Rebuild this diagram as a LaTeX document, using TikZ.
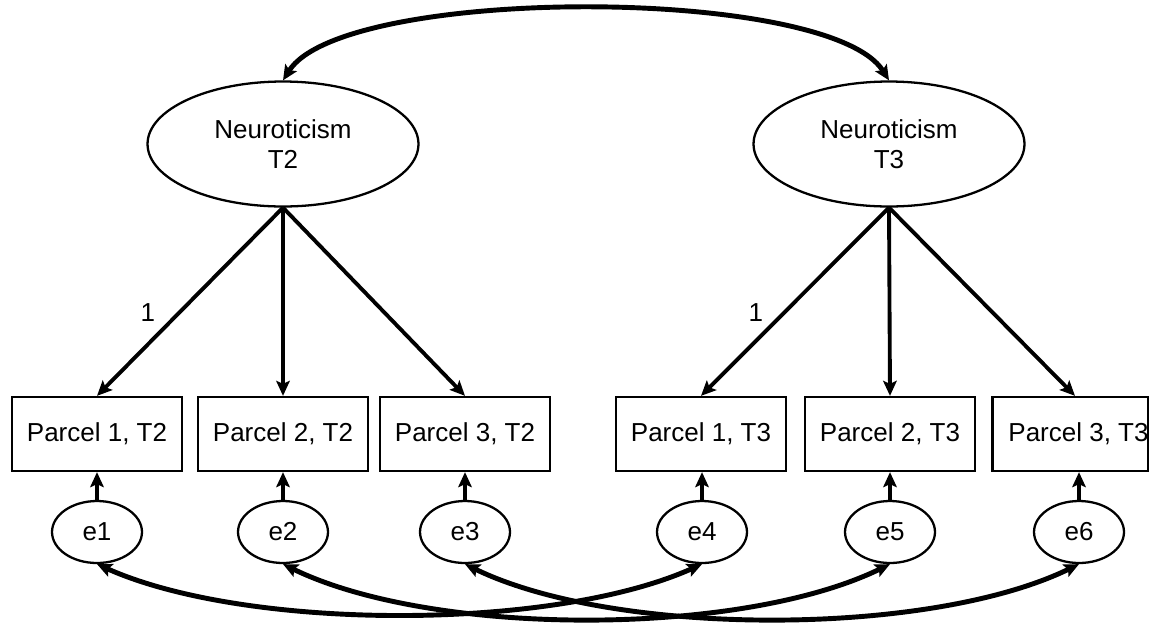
\documentclass[tikz,border=0pt]{standalone}
\usepackage{fontspec}
\setmainfont{Liberation Sans}
\usetikzlibrary{arrows.meta,shapes.geometric}
\begin{document}
\begin{tikzpicture}[x=0.02cm,y=-0.02cm,
  font=\fontsize{14.8}{17}\selectfont,
  latent/.style={ellipse,draw,line width=1.3pt,minimum width=5.42cm,minimum height=2.5cm,inner sep=0pt,align=center},
  obs/.style={rectangle,draw,line width=1.3pt,minimum width=3.4cm,minimum height=1.48cm,inner sep=0pt},
  err/.style={ellipse,draw,line width=1.3pt,minimum width=1.8cm,minimum height=1.24cm,inner sep=0pt},
  tip/.style={-{Stealth[length=0.3cm,width=0.27cm,inset=0.06cm]}},
  load/.style={tip,line width=2.2pt},
  resid/.style={tip,line width=2.8pt},
  cov/.style={{Stealth[length=0.3cm,width=0.27cm,inset=0.06cm]}-{Stealth[length=0.3cm,width=0.27cm,inset=0.06cm]},line width=2.8pt},
  lbl/.style={font=\fontsize{14.8}{17}\selectfont},
]
\useasboundingbox (0,0) rectangle (1149,623);

\node[latent] (L2) at (283,144) {Neuroticism\\T2};
\node[latent] (L3) at (889,144) {Neuroticism\\T3};

\node[obs] (P1) at (97,434) {Parcel 1, T2};
\node[obs] (P2) at (283,434) {Parcel 2, T2};
\node[obs] (P3) at (465,434) {Parcel 3, T2};
\node[obs] (P4) at (701,434) {Parcel 1, T3};
\node[obs] (P5) at (890,434) {Parcel 2, T3};
\node[obs,minimum width=3.1cm] (P6) at (1070.5,434) {\hspace*{0.32cm}Parcel 3, T3};

\node[err] (e1) at (97,532) {e1};
\node[err] (e2) at (283,532) {e2};
\node[err] (e3) at (465,532) {e3};
\node[err] (e4) at (702,532) {e4};
\node[err] (e5) at (890,532) {e5};
\node[err] (e6) at (1079,532) {e6};

\draw[load] (L2.south) -- node[lbl,pos=0.56,xshift=-0.62cm] {1} (P1.north);
\draw[load] (L2.south) -- (P2.north);
\draw[load] (L2.south) -- (P3.north);
\draw[load] (L3.south) -- node[lbl,pos=0.56,xshift=-0.56cm] {1} (P4.north);
\draw[load] (L3.south) -- (P5.north);
\draw[load] (L3.south) -- ([xshift=0.09cm]P6.north);

\draw[resid] (e1.north) -- (e1.north |- P1.south);
\draw[resid] (e2.north) -- (e2.north |- P2.south);
\draw[resid] (e3.north) -- (e3.north |- P3.south);
\draw[resid] (e4.north) -- (e4.north |- P4.south);
\draw[resid] (e5.north) -- (e5.north |- P5.south);
\draw[resid] (e6.north) -- (e6.north |- P6.south);

\draw[cov] (L2.north) .. controls +(60,-95) and +(-60,-95) .. (L3.north);
\draw[cov] (e1.south) .. controls +(150,67) and +(-150,67) .. (e4.south);
\draw[cov] (e2.south) .. controls +(150,73) and +(-150,73) .. (e5.south);
\draw[cov] (e3.south) .. controls +(150,73) and +(-150,73) .. (e6.south);
\end{tikzpicture}
\end{document}
